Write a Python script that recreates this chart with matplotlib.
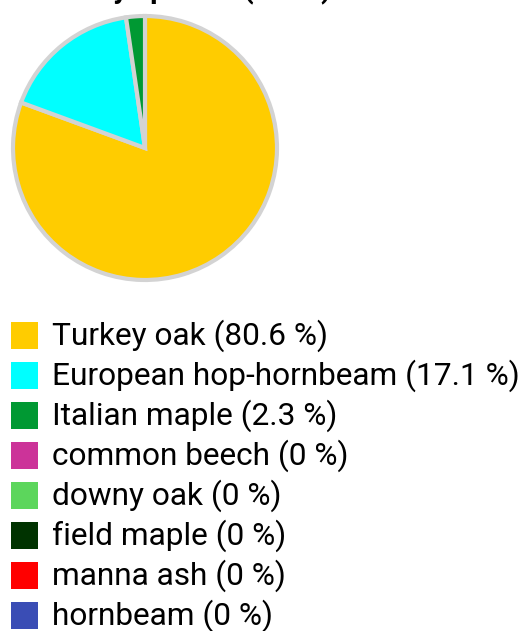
import matplotlib
matplotlib.use("Agg")
import matplotlib.pyplot as plt
from matplotlib.patches import Rectangle

species = ["Turkey oak", "European hop-hornbeam", "Italian maple", "common beech",
           "downy oak", "field maple", "manna ash", "hornbeam"]
shares = [80.6, 17.1, 2.3, 0, 0, 0, 0, 0]
colors = ["#FFCC00", "#00FFFF", "#009933", "#CC3399",
          "#5CD65C", "#003300", "#FF0000", "#3A4DB5"]
title = "Trees by species (trees)"

W, H = 526, 631
fig = plt.figure(figsize=(W / 100, H / 100), dpi=100)
fig.patch.set_facecolor("white")
plt.rcParams['font.family'] = ['Roboto', 'DejaVu Sans']

# pie
cx, cy, r = 145, 148, 134
ax = fig.add_axes([(cx - r) / W, (H - cy - r) / H, 2 * r / W, 2 * r / H])
vals = [v for v in shares if v > 0]
cols = [c for v, c in zip(shares, colors) if v > 0]
ax.pie(vals, colors=cols, startangle=90, counterclock=False, radius=0.985,
       wedgeprops=dict(edgecolor="#D3D3D3", linewidth=3.0))
ax.set_xlim(-1, 1)
ax.set_ylim(-1, 1)
ax.set_aspect("equal")
ax.axis("off")

# title (mostly cut off at the top, as in the reference)
fig.text(331 / W, (H + 2) / H, title, fontsize=21, fontweight="bold",
         ha="right", va="baseline", color="black")

# legend
for i, (name, val, col) in enumerate(zip(species, shares, colors)):
    top = 322 + 40 * i
    fig.patches.append(Rectangle((11 / W, (H - top - 27) / H), 27 / W, 27 / H,
                                 transform=fig.transFigure, facecolor=col,
                                 edgecolor="none"))
    label = f"{name} ({val:g} %)"
    fig.text(52 / W, (H - (top + 23)) / H, label, fontsize=22.8,
             ha="left", va="baseline", color="black")

fig.savefig("out.png", dpi=100)
